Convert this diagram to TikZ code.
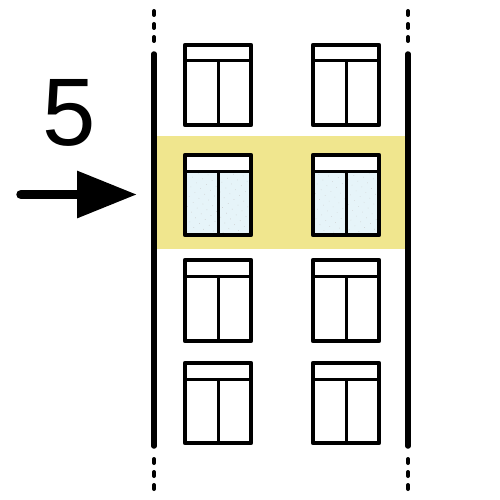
\documentclass[tikz,border=0pt]{standalone}
\usepackage{fontspec}
\setmainfont{Liberation Sans}
\usetikzlibrary{arrows.meta,patterns.meta}
\definecolor{bandyellow}{HTML}{F0E68E}
\definecolor{glassblue}{HTML}{E6F4F9}
\tikzset{
	pole/.style={line width=5.5pt,line cap=round},
	polegap/.style={line width=4pt,line cap=round},
	frame/.style={line width=4.5pt,line join=round},
	glazing/.style={line width=3pt},
}
\begin{document}
\begin{tikzpicture}[x=1pt,y=-1pt]
	\useasboundingbox (0,0) rectangle (500,500);
	\fill[bandyellow] (155,136) rectangle (406,249);

	% glass of the lit storey
	\foreach \x in {185,313}{
		\fill[glassblue] (\x,171) rectangle (\x+66,235);
		\fill[pattern={Dots[distance=7pt,radius=.4pt,angle=35]},pattern color=black!22] (\x,171) rectangle (\x+66,235);
		\fill[white] (\x,155) rectangle (\x+66,171);
	}

	% windows
	\foreach \x in {185,313}{
		\foreach \top/\bot/\bar in {45/125/61,155/235/171,260/341/276,363/443/379}{
			\draw[frame] (\x,\top) rectangle (\x+66,\bot);
			\draw[glazing] (\x,\bar) -- (\x+66,\bar);
			\draw[glazing] (\x+33,\bar) -- (\x+33,\bot);
		}
	}

	% poles
	\foreach \x in {154,408}{
		\draw[pole] (\x,54) -- (\x,446);
		\foreach \a/\b in {11/15,24/28,37/41,459/463,472/476,485/489}{
			\draw[polegap] (\x,\a) -- (\x,\b);
		}
	}

	\node (num) at (69,113) {\fontsize{96}{96}\selectfont 5};
	\coordinate (tail) at (21,194.5);
	\coordinate (tip) at (137,194.5);
	\draw[line width=9.5pt,line cap=round,-{Triangle[length=60pt,width=45pt]}] (tail) -- (tip);
\end{tikzpicture}
\end{document}
